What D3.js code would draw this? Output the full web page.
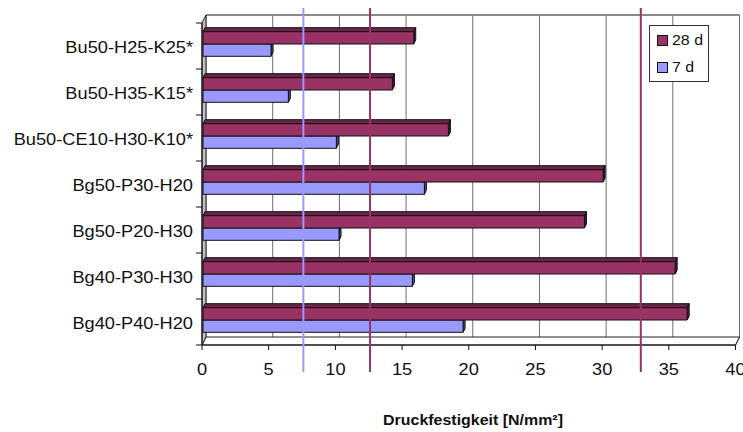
<!DOCTYPE html>
<html>
<head>
<meta charset="utf-8">
<script src="https://cdn.jsdelivr.net/npm/d3@7"></script>
<style>
  html, body { margin: 0; padding: 0; background: #fff; }
  svg { display: block; font-family: "Liberation Sans", Arial, sans-serif; }
</style>
</head>
<body>
<svg id="chart" width="743" height="432"></svg>
<script>
// Mixtures, top to bottom
const categories = [
  "Bu50-H25-K25*",
  "Bu50-H35-K15*",
  "Bu50-CE10-H30-K10*",
  "Bg50-P30-H20",
  "Bg50-P20-H30",
  "Bg40-P30-H30",
  "Bg40-P40-H20"
];
const seriesNames = ["28 d", "7 d"];
const values28d = [15.8, 14.2, 18.4, 30.0, 28.6, 35.4, 36.3];
const values7d = [5.1, 6.4, 10.0, 16.6, 10.2, 15.7, 19.5];
const tickValues = [0, 5, 10, 15, 20, 25, 30, 35, 40];
const refValues = [7.6, 12.6, 32.9];
const refSeries = ["7 d", "28 d", "28 d"];
const axisTitle = "Druckfestigkeit [N/mm²]";

const colors = { "28 d": "#993366", "7 d": "#9999FF" };
const topColors = { "28 d": "#6e2249", "7 d": "#7777cc" };
const sideColors = { "28 d": "#4a1631", "7 d": "#4d4d99" };
const STRETCH = 1.14;

const svg = d3.select("#chart");

// front plane scale; the back wall sits one depth step up-right
const x = d3.scaleLinear().domain([0, 40]).range([202, 735.5]);
const DX = 4, DY = -8;            // plot depth
const y = d3.scaleBand().domain(categories).range([23, 345]);
const inner = d3.scaleBand().domain(seriesNames).range([0, y.bandwidth()]).paddingOuter(0.87);
const bdx = 2, bdy = -4;          // bar depth
const boff = [1, -2];             // bar front plane inset

const yTop = y.range()[0], yBot = y.range()[1];

// back wall
svg.append("rect")
  .attr("x", x(0) + DX).attr("y", yTop + DY)
  .attr("width", x(40) - x(0)).attr("height", yBot - yTop)
  .attr("fill", "#fff");

// vertical gridlines on back wall and floor
const grid = svg.append("g");
tickValues.forEach(v => {
  grid.append("line")
    .attr("x1", x(v) + DX).attr("x2", x(v) + DX)
    .attr("y1", yTop + DY).attr("y2", yBot + DY)
    .attr("stroke", "#6e6e6e").attr("stroke-width", 1);
});
// top border of back wall
svg.append("line")
  .attr("x1", x(0) + DX).attr("x2", x(40) + DX)
  .attr("y1", yTop + DY).attr("y2", yTop + DY)
  .attr("stroke", "#8a8a8a").attr("stroke-width", 2);

// floor
svg.append("path")
  .attr("d", `M${x(0)},${yBot} L${x(0) + DX},${yBot + DY} L${x(40) + DX},${yBot + DY} L${x(40)},${yBot} Z`)
  .attr("fill", "#fff").attr("stroke", "#222").attr("stroke-width", 1);
tickValues.forEach(v => {
  grid.append("line")
    .attr("x1", x(v)).attr("y1", yBot)
    .attr("x2", x(v) + DX).attr("y2", yBot + DY)
    .attr("stroke", "#222").attr("stroke-width", 1);
});

// left side wall
svg.append("path")
  .attr("d", `M${x(0)},${yTop} L${x(0) + DX},${yTop + DY} L${x(0) + DX},${yBot + DY} L${x(0)},${yBot} Z`)
  .attr("fill", "#c0c0c0").attr("stroke", "#222").attr("stroke-width", 1);

// bars (7 d first so the 28 d bar covers its top)
const bars = svg.append("g");
const seriesData = { "28 d": values28d, "7 d": values7d };
["7 d", "28 d"].forEach(s => {
  categories.forEach((c, i) => {
    const v = seriesData[s][i];
    const x0 = x(0) + boff[0], x1 = x(v) + boff[0];
    const y0 = y(c) + inner(s) + boff[1], y1 = y0 + inner.bandwidth();
    const g = bars.append("g").attr("stroke", "#111").attr("stroke-width", 1).attr("stroke-linejoin", "round");
    // top face
    g.append("path")
      .attr("d", `M${x0},${y0} L${x0 + bdx},${y0 + bdy} L${x1 + bdx},${y0 + bdy} L${x1},${y0} Z`)
      .attr("fill", topColors[s]);
    // end face
    g.append("path")
      .attr("d", `M${x1},${y0} L${x1 + bdx},${y0 + bdy} L${x1 + bdx},${y1 + bdy} L${x1},${y1} Z`)
      .attr("fill", sideColors[s]);
    // front face
    g.append("rect")
      .attr("x", x0).attr("y", y0)
      .attr("width", x1 - x0).attr("height", y1 - y0)
      .attr("fill", colors[s]);
  });
});

// category axis line and ticks
svg.append("line")
  .attr("x1", x(0)).attr("x2", x(0)).attr("y1", yTop).attr("y2", yBot)
  .attr("stroke", "#111").attr("stroke-width", 1);
const catEdges = categories.map(c => y(c)).concat([yBot]);
catEdges.forEach(e => {
  svg.append("line")
    .attr("x1", x(0) - 6).attr("x2", x(0)).attr("y1", e).attr("y2", e)
    .attr("stroke", "#111").attr("stroke-width", 1);
});
// front edge of floor and value ticks
svg.append("line")
  .attr("x1", x(0)).attr("x2", x(40)).attr("y1", yBot).attr("y2", yBot)
  .attr("stroke", "#111").attr("stroke-width", 1);
tickValues.forEach(v => {
  svg.append("line")
    .attr("x1", x(v)).attr("x2", x(v)).attr("y1", yBot).attr("y2", yBot + 5)
    .attr("stroke", "#111").attr("stroke-width", 1);
});

// category labels
categories.forEach(c => {
  const cy = y(c) + y.bandwidth() / 2;
  svg.append("text")
    .attr("transform", `translate(193,${cy + 7}) scale(${STRETCH},1)`)
    .attr("text-anchor", "end")
    .attr("font-size", 16)
    .attr("fill", "#111")
    .text(c);
});

// value tick labels
tickValues.forEach(v => {
  svg.append("text")
    .attr("transform", `translate(${x(v)},375) scale(${STRETCH},1)`)
    .attr("text-anchor", "middle")
    .attr("font-size", 16)
    .attr("fill", "#111")
    .text(v);
});

// axis title
svg.append("text")
  .attr("transform", `translate(473,425) scale(${STRETCH},1)`)
  .attr("text-anchor", "middle")
  .attr("font-size", 14)
  .attr("font-weight", "bold")
  .attr("fill", "#111")
  .text(axisTitle);

// reference lines
refValues.forEach((v, i) => {
  svg.append("line")
    .attr("x1", x(v)).attr("x2", x(v))
    .attr("y1", 8).attr("y2", 372)
    .attr("stroke", colors[refSeries[i]]).attr("stroke-width", 2);
});

// legend
const lg = svg.append("g").attr("transform", "translate(649,25)");
lg.append("rect").attr("x", 0.5).attr("y", 0.5).attr("width", 59).attr("height", 56)
  .attr("fill", "#fff").attr("stroke", "#333").attr("stroke-width", 1);
seriesNames.forEach((s, i) => {
  const ly = 10 + i * 27;
  lg.append("rect").attr("x", 8.5).attr("y", ly + 0.5).attr("width", 10).attr("height", 10)
    .attr("fill", colors[s]).attr("stroke", "#111").attr("stroke-width", 1);
  lg.append("text")
    .attr("transform", `translate(23,${ly + 10}) scale(${STRETCH},1)`)
    .attr("font-size", 14)
    .attr("fill", "#111")
    .text(s);
});
</script>
</body>
</html>
